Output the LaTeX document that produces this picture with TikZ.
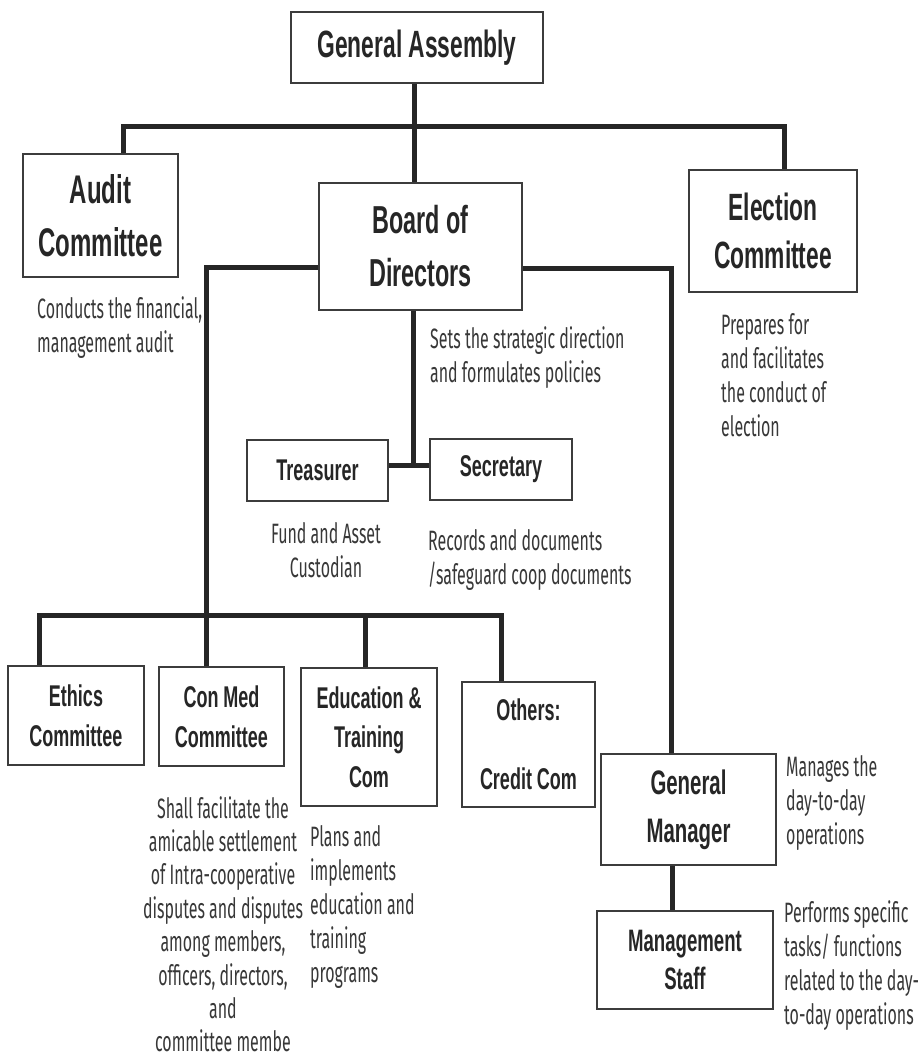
\documentclass[tikz,border=0pt]{standalone}
\usepackage{fontspec}
\newfontfamily\labelfont{Liberation Sans}[FakeStretch=0.6]
\newfontfamily\notefont{Fira Sans}[FakeStretch=0.57]
\newcommand{\boxfont}[2]{\labelfont\bfseries\fontsize{#1}{#2}\selectfont}
\definecolor{ink}{HTML}{262626}
\definecolor{boxline}{HTML}{3C3C3C}
\definecolor{notegray}{HTML}{383838}

\tikzset{
  orgbox/.style={draw=boxline, line width=1.6pt, fill=white, align=center, inner sep=0pt, text=ink},
  link/.style={draw=ink, line width=5pt},
  note/.style={align=left, inner sep=0pt, text=notegray, font=\notefont\fontsize{28}{34}\selectfont},
}

\begin{document}
\begin{tikzpicture}[x=1pt,y=-1pt]
  \fill[white] (0,0) rectangle (920,1058);
  \useasboundingbox (0,0) rectangle (920,1058);

  \def \busy {126}
  \def \lowbusy {615}

  % top level
  \node[orgbox, minimum width=252pt, minimum height=71pt, font=\boxfont{38}{46}] (ga) at (417,47.5) {General Assembly};
  \node[orgbox, minimum width=155pt, minimum height=123pt, font=\boxfont{40}{53}] (audit) at (100.5,215.5) {Audit\\Committee};
  \node[orgbox, minimum width=203pt, minimum height=127pt, font=\boxfont{39}{53}] (board) at (420.5,246.5) {Board of\\Directors};
  \node[orgbox, minimum width=168pt, minimum height=122pt, font=\boxfont{38}{48}] (election) at (773,231) {Election\\Committee};

  % officers
  \node[orgbox, minimum width=141pt, minimum height=61pt, font=\boxfont{30}{36}] (treas) at (317.5,470.5) {Treasurer};
  \node[orgbox, minimum width=142pt, minimum height=61pt, font=\boxfont{30}{36}] (secr) at (501,469.5) {Secretary};

  % committees
  \node[orgbox, minimum width=136pt, minimum height=99pt, font=\boxfont{30}{40}] (ethics) at (76,715.5) {Ethics\\Committee};
  \node[orgbox, minimum width=125pt, minimum height=99pt, font=\boxfont{30}{40}] (conmed) at (221.5,716.5) {Con Med\\Committee};
  \node[orgbox, minimum width=136pt, minimum height=138pt, font=\boxfont{30}{39.5}] (educ) at (369,737) {Education \&\\Training\\Com};
  \node[orgbox, minimum width=133pt, minimum height=125pt, font=\boxfont{30}{40}] (others) at (528.5,744.5) {Others:\\[29pt]Credit Com};

  % management
  \node[orgbox, minimum width=175pt, minimum height=111pt, font=\boxfont{34}{48}] (gm) at (688.5,809.5) {General\\Manager};
  \node[orgbox, minimum width=176pt, minimum height=98pt, font=\boxfont{31}{38}] (staff) at (685,960) {Management\\Staff};

  % notes
  \node[note, anchor=north west] (auditnote) at (37,296.5) {Conducts the financial,\\management audit};
  \node[note, anchor=north west] (boardnote) at (430,326.5) {Sets the strategic direction\\and formulates policies};
  \node[note, anchor=north west] (electnote) at (721,313.5) {Prepares for\\and facilitates\\the conduct of\\election};
  \node[note, anchor=north, align=center] (treasnote) at (326,522.5) {Fund and Asset\\Custodian};
  \node[note, anchor=north west] (secrnote) at (428,529) {Records and documents\\/safeguard coop documents};
  \node[note, anchor=north, align=center, font=\notefont\fontsize{28}{33.4}\selectfont] (conmednote) at (223,796) {Shall facilitate the\\amicable settlement\\of Intra-cooperative\\disputes and disputes\\among members,\\officers, directors,\\and\\committee membe};
  \node[note, anchor=north west] (educnote) at (310,825.5) {Plans and\\implements\\education and\\training\\programs};
  \node[note, anchor=north west] (gmnote) at (786,755.5) {Manages the\\day-to-day\\operations};
  \node[note, anchor=north west] (staffnote) at (784,900.5) {Performs specific\\tasks/ functions\\related to the day-\\to-day operations};

  % connectors
  \coordinate (gadrop) at (414,\busy);
  \coordinate (busL) at (123,\busy);
  \coordinate (busR) at (784,\busy);
  \draw[link] (ga.south -| gadrop) -- (board.north -| gadrop);
  \draw[link] (audit.north -| busL) -- (busL) -- (busR) -- (election.north -| busR);

  \coordinate (bdL) at (206,267);
  \coordinate (bdR) at (671,268);
  \draw[link] (board.west |- bdL) -- (bdL) -- (conmed.north -| bdL);
  \draw[link] (board.east |- bdR) -- (bdR) -- (gm.north -| bdR);

  \coordinate (lowL) at (39,\lowbusy);
  \coordinate (lowE) at (365,\lowbusy);
  \coordinate (lowR) at (501,\lowbusy);
  \draw[link] (ethics.north -| lowL) -- (lowL) -- (lowR) -- (others.north -| lowR);
  \draw[link] (lowE) -- (educ.north -| lowE);

  \coordinate (tsjoin) at (413,465);
  \draw[link] (board.south -| tsjoin) -- (tsjoin);
  \draw[link] (treas.east |- tsjoin) -- (secr.west |- tsjoin);

  \coordinate (gmdrop) at (672,0);
  \draw[link] (gm.south -| gmdrop) -- (staff.north -| gmdrop);
\end{tikzpicture}
\end{document}
